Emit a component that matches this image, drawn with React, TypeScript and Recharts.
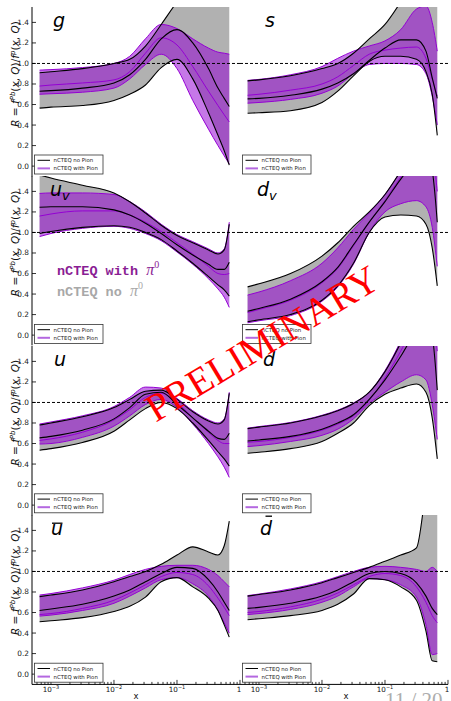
import React from 'react';
import { ComposedChart, Area, Line, XAxis, YAxis, ReferenceLine } from 'recharts';

// ---------------- data ----------------
// sampling points in x (log-spaced)
const X_GRID = [0.00066, 0.001, 0.00316, 0.01, 0.0178, 0.0316, 0.0562, 0.1, 0.178, 0.316, 0.447, 0.562, 0.676];

// g
const G_NO_HI = [0.91, 0.92, 0.95, 1.0, 1.04, 1.17, 1.38, 1.6, 1.8, 1.95, 2.0, 2.0, 2.0];
const G_NO_C = [0.73, 0.735, 0.76, 0.81, 0.89, 1.04, 1.24, 1.33, 1.2, 0.95, 0.76, 0.66, 0.58];
const G_NO_LO = [0.565, 0.575, 0.59, 0.64, 0.7, 0.79, 0.96, 1.04, 0.85, 0.52, 0.3, 0.15, 0.01];
const G_PI_HI = [0.935, 0.94, 0.96, 1.0, 1.07, 1.24, 1.38, 1.34, 1.24, 1.15, 1.11, 1.1, 1.09];
const G_PI_C = [0.78, 0.79, 0.81, 0.84, 0.92, 1.1, 1.25, 1.18, 0.97, 0.73, 0.59, 0.5, 0.43];
const G_PI_LO = [0.7, 0.705, 0.72, 0.76, 0.85, 0.99, 1.09, 0.95, 0.64, 0.36, 0.2, 0.1, 0.02];

// s
const S_NO_HI = [0.83, 0.84, 0.88, 0.95, 1.0, 1.1, 1.24, 1.38, 1.6, 1.85, 2.0, 2.0, 2.0];
const S_NO_C = [0.655, 0.66, 0.69, 0.75, 0.81, 0.9, 1.03, 1.15, 1.23, 1.23, 1.12, 0.86, 0.66];
const S_NO_LO = [0.515, 0.52, 0.54, 0.62, 0.73, 0.88, 1.02, 1.07, 1.07, 1.04, 0.92, 0.7, 0.3];
const S_PI_HI = [0.835, 0.845, 0.89, 0.97, 1.05, 1.12, 1.17, 1.22, 1.33, 1.53, 1.56, 1.4, 1.12];
const S_PI_C = [0.69, 0.7, 0.74, 0.8, 0.87, 0.98, 1.09, 1.13, 1.15, 1.16, 1.05, 0.85, 0.68];
const S_PI_LO = [0.613, 0.62, 0.65, 0.71, 0.78, 0.9, 0.99, 1.0, 1.0, 0.99, 0.9, 0.68, 0.4];

// u_v
const UV_NO_HI = [1.56, 1.53, 1.46, 1.385, 1.3, 1.19, 1.07, 0.97, 0.9, 0.83, 0.79, 0.83, 1.08];
const UV_NO_C = [1.245, 1.25, 1.25, 1.22, 1.17, 1.09, 0.99, 0.88, 0.78, 0.69, 0.64, 0.64, 0.71];
const UV_NO_LO = [0.99, 1.01, 1.05, 1.065, 1.05, 1.0, 0.93, 0.82, 0.7, 0.57, 0.49, 0.44, 0.38];
const UV_PI_HI = [1.38, 1.385, 1.385, 1.37, 1.3, 1.2, 1.08, 0.98, 0.91, 0.84, 0.8, 0.84, 1.1];
const UV_PI_C = [1.16, 1.18, 1.21, 1.21, 1.17, 1.1, 1.01, 0.9, 0.79, 0.67, 0.6, 0.59, 0.6];
const UV_PI_LO = [0.96, 0.99, 1.04, 1.06, 1.04, 0.99, 0.92, 0.81, 0.69, 0.55, 0.45, 0.37, 0.27];

// d_v
const DV_NO_HI = [0.47, 0.5, 0.6, 0.77, 0.9, 1.06, 1.2, 1.37, 1.6, 1.85, 1.95, 1.95, 1.8];
const DV_NO_C = [0.233, 0.26, 0.35, 0.52, 0.66, 0.88, 1.1, 1.3, 1.52, 1.7, 1.75, 1.6, 1.1];
const DV_NO_LO = [0.13, 0.15, 0.2, 0.34, 0.48, 0.7, 1.0, 1.15, 1.17, 1.16, 1.08, 0.85, 0.48];
const DV_PI_HI = [0.39, 0.42, 0.53, 0.7, 0.85, 1.03, 1.19, 1.37, 1.6, 1.88, 2.0, 2.0, 1.9];
const DV_PI_C = [0.22, 0.25, 0.34, 0.51, 0.65, 0.87, 1.1, 1.31, 1.54, 1.74, 1.8, 1.75, 1.4];
const DV_PI_LO = [0.12, 0.14, 0.19, 0.33, 0.47, 0.69, 1.0, 1.2, 1.28, 1.31, 1.25, 1.05, 0.67];

// u
const U_NO_HI = [0.78, 0.8, 0.86, 0.95, 1.03, 1.11, 1.12, 1.03, 0.91, 0.82, 0.79, 0.83, 1.09];
const U_NO_C = [0.655, 0.67, 0.73, 0.84, 0.95, 1.08, 1.1, 0.98, 0.85, 0.72, 0.65, 0.64, 0.7];
const U_NO_LO = [0.535, 0.55, 0.61, 0.72, 0.83, 0.94, 1.0, 0.94, 0.8, 0.63, 0.52, 0.45, 0.38];
const U_PI_HI = [0.79, 0.81, 0.87, 0.96, 1.05, 1.15, 1.14, 1.04, 0.92, 0.83, 0.8, 0.84, 1.1];
const U_PI_C = [0.63, 0.645, 0.71, 0.83, 0.93, 1.05, 1.09, 1.0, 0.85, 0.71, 0.63, 0.6, 0.6];
const U_PI_LO = [0.595, 0.6, 0.66, 0.77, 0.87, 0.98, 1.03, 0.95, 0.79, 0.6, 0.47, 0.37, 0.27];

// d
const D_NO_HI = [0.745, 0.76, 0.8, 0.87, 0.92, 0.99, 1.1, 1.3, 1.58, 1.9, 2.0, 2.0, 1.8];
const D_NO_C = [0.625, 0.635, 0.67, 0.74, 0.8, 0.88, 1.03, 1.22, 1.45, 1.7, 1.8, 1.65, 1.12];
const D_NO_LO = [0.505, 0.515, 0.55, 0.62, 0.7, 0.8, 0.97, 1.08, 1.14, 1.18, 1.1, 0.85, 0.45];
const D_PI_HI = [0.75, 0.765, 0.805, 0.875, 0.925, 0.995, 1.1, 1.31, 1.6, 1.95, 2.05, 2.0, 1.9];
const D_PI_C = [0.612, 0.62, 0.66, 0.73, 0.79, 0.87, 1.02, 1.24, 1.5, 1.8, 1.9, 1.85, 1.5];
const D_PI_LO = [0.57, 0.58, 0.62, 0.68, 0.74, 0.84, 0.99, 1.1, 1.2, 1.27, 1.22, 0.98, 0.64];

// u-bar
const UB_NO_HI = [0.755, 0.77, 0.82, 0.9, 0.95, 1.0, 1.07, 1.16, 1.24, 1.19, 1.16, 1.25, 1.49];
const UB_NO_C = [0.62, 0.635, 0.68, 0.76, 0.82, 0.9, 0.98, 1.04, 1.03, 0.92, 0.8, 0.7, 0.62];
const UB_NO_LO = [0.51, 0.52, 0.55, 0.61, 0.66, 0.75, 0.9, 0.94, 0.85, 0.74, 0.62, 0.48, 0.36];
const UB_PI_HI = [0.77, 0.785, 0.84, 0.915, 0.97, 1.02, 1.05, 1.06, 1.06, 1.02, 0.96, 0.9, 0.85];
const UB_PI_C = [0.58, 0.59, 0.64, 0.72, 0.79, 0.87, 0.95, 0.99, 0.97, 0.86, 0.74, 0.65, 0.57];
const UB_PI_LO = [0.565, 0.575, 0.62, 0.69, 0.76, 0.84, 0.92, 0.94, 0.88, 0.76, 0.62, 0.5, 0.4];

// d-bar
const DB_NO_HI = [0.76, 0.775, 0.82, 0.89, 0.94, 0.99, 1.04, 1.1, 1.16, 1.23, 1.8, 2.2, 2.4];
const DB_NO_C = [0.64, 0.65, 0.69, 0.76, 0.82, 0.9, 0.98, 1.0, 0.98, 0.89, 0.76, 0.64, 0.58];
const DB_NO_LO = [0.53, 0.54, 0.57, 0.62, 0.68, 0.78, 0.93, 0.92, 0.85, 0.72, 0.42, 0.13, 0.12];
const DB_PI_HI = [0.765, 0.78, 0.83, 0.9, 0.95, 1.0, 1.04, 1.05, 1.04, 1.02, 1.0, 1.04, 1.0];
const DB_PI_C = [0.6, 0.61, 0.655, 0.73, 0.79, 0.87, 0.95, 0.98, 0.96, 0.85, 0.7, 0.57, 0.5];
const DB_PI_LO = [0.58, 0.59, 0.63, 0.7, 0.76, 0.85, 0.93, 0.92, 0.87, 0.75, 0.48, 0.19, 0.2];

// axes
const X_DOMAIN: [number, number] = [0.0005, 1];
const Y_DOMAIN: [number, number] = [-0.1, 1.55];
const X_MAJOR = [0.001, 0.01, 0.1, 1];
const X_MAJOR_EXP = ['\u22123', '\u22122', '\u22121', ''];
const X_TICKS = [
  0.0006, 0.0007, 0.0008, 0.0009, 0.001,
  0.002, 0.003, 0.004, 0.005, 0.006, 0.007, 0.008, 0.009, 0.01,
  0.02, 0.03, 0.04, 0.05, 0.06, 0.07, 0.08, 0.09, 0.1,
  0.2, 0.3, 0.4, 0.5, 0.6, 0.7, 0.8, 0.9, 1,
];
const Y_TICKS = [0, 0.2, 0.4, 0.6, 0.8, 1.0, 1.2, 1.4];
const Y_TICK_LABELS = ['0.0', '0.2', '0.4', '0.6', '0.8', '1.0', '1.2', '1.4'];

const LEGEND_LABELS = ['nCTEQ no Pion', 'nCTEQ with Pion'];

type Spec = {
  id: string;
  noHi: number[]; noC: number[]; noLo: number[];
  piHi: number[]; piC: number[]; piLo: number[];
};

const GRID: Spec[][] = [
  [
    { id: 'g', noHi: G_NO_HI, noC: G_NO_C, noLo: G_NO_LO, piHi: G_PI_HI, piC: G_PI_C, piLo: G_PI_LO },
    { id: 's', noHi: S_NO_HI, noC: S_NO_C, noLo: S_NO_LO, piHi: S_PI_HI, piC: S_PI_C, piLo: S_PI_LO },
  ],
  [
    { id: 'uv', noHi: UV_NO_HI, noC: UV_NO_C, noLo: UV_NO_LO, piHi: UV_PI_HI, piC: UV_PI_C, piLo: UV_PI_LO },
    { id: 'dv', noHi: DV_NO_HI, noC: DV_NO_C, noLo: DV_NO_LO, piHi: DV_PI_HI, piC: DV_PI_C, piLo: DV_PI_LO },
  ],
  [
    { id: 'u', noHi: U_NO_HI, noC: U_NO_C, noLo: U_NO_LO, piHi: U_PI_HI, piC: U_PI_C, piLo: U_PI_LO },
    { id: 'd', noHi: D_NO_HI, noC: D_NO_C, noLo: D_NO_LO, piHi: D_PI_HI, piC: D_PI_C, piLo: D_PI_LO },
  ],
  [
    { id: 'ub', noHi: UB_NO_HI, noC: UB_NO_C, noLo: UB_NO_LO, piHi: UB_PI_HI, piC: UB_PI_C, piLo: UB_PI_LO },
    { id: 'db', noHi: DB_NO_HI, noC: DB_NO_C, noLo: DB_NO_LO, piHi: DB_PI_HI, piC: DB_PI_C, piLo: DB_PI_LO },
  ],
];

// ---------------- layout ----------------
const PLOT_W = 208;
const PLOT_H = 169.4;
const ROW_TOP = [7, 176.4, 345.8, 515.2];
const COL_LEFT = [32, 240];

const GRAY = '#b1b1b1';
const VIOLET = '#9400d3';
const FONT = "'DejaVu Sans', sans-serif";

function buildRows(s: Spec) {
  return X_GRID.map((x, i) => ({
    x,
    gray: [s.noLo[i], s.noHi[i]],
    pion: [s.piLo[i], s.piHi[i]],
    noHi: s.noHi[i], noC: s.noC[i], noLo: s.noLo[i],
    piHi: s.piHi[i], piC: s.piC[i], piLo: s.piLo[i],
  }));
}

function BottomTick(props: any) {
  const { x, y, payload, showLabel } = props;
  const v = payload.value;
  const mi = X_MAJOR.indexOf(v);
  const len = mi >= 0 ? 4.5 : 2.5;
  return (
    <g>
      <line x1={x} x2={x} y1={y} y2={y - len} stroke="#000" strokeWidth={0.8} />
      {showLabel && mi >= 0 && (
        mi < 3 ? (
          <text x={x} y={y + 8} textAnchor="middle" fontSize={7.2} fontFamily={FONT} fill="#111">
            10<tspan dy={-3.6} fontSize={5}>{X_MAJOR_EXP[mi]}</tspan>
          </text>
        ) : (
          <text x={x - 1} y={y + 8} textAnchor="middle" fontSize={7.2} fontFamily={FONT} fill="#111">1</text>
        )
      )}
    </g>
  );
}

function TopTick(props: any) {
  const { x, y, payload } = props;
  const len = X_MAJOR.indexOf(payload.value) >= 0 ? 4.5 : 2.5;
  return <line x1={x} x2={x} y1={y} y2={y + len} stroke="#000" strokeWidth={0.8} />;
}

function LeftTick(props: any) {
  const { x, y, payload, showLabel } = props;
  const i = Y_TICKS.indexOf(payload.value);
  return (
    <g>
      <line x1={x} x2={x + 4} y1={y} y2={y} stroke="#000" strokeWidth={0.8} />
      {showLabel && (
        <text x={x - 3} y={y + 2.5} textAnchor="end" fontSize={7.4} fontFamily={FONT} fill="#222">
          {Y_TICK_LABELS[i]}
        </text>
      )}
    </g>
  );
}

function RightTick(props: any) {
  const { x, y } = props;
  return <line x1={x} x2={x - 4} y1={y} y2={y} stroke="#000" strokeWidth={0.8} />;
}

function Panel({ spec, row, col }: { spec: Spec; row: number; col: number }) {
  const rows = buildRows(spec);
  const yW = col === 0 ? 32 : 0;
  const xH = row === 3 ? 17 : 0;
  const m = { top: 1, right: 8, bottom: 1, left: 1 };
  const w = m.left + yW + PLOT_W + m.right;
  const h = m.top + PLOT_H + xH + m.bottom;
  const axisLine = { stroke: '#000', strokeWidth: 1 };
  return (
    <div style={{ position: 'absolute', left: COL_LEFT[col] - yW - m.left, top: ROW_TOP[row] - m.top, width: w, height: h }}>
      <ComposedChart width={w} height={h} data={rows} margin={m}>
        <XAxis xAxisId="b" dataKey="x" type="number" scale="log" domain={X_DOMAIN} allowDataOverflow
          ticks={X_TICKS} interval={0} tickSize={0} tickMargin={0} height={xH} tickLine={false}
          axisLine={axisLine} tick={(p: any) => <BottomTick {...p} showLabel={row === 3} />} />
        <XAxis xAxisId="t" dataKey="x" orientation="top" type="number" scale="log" domain={X_DOMAIN} allowDataOverflow
          ticks={X_TICKS} interval={0} tickSize={0} tickMargin={0} height={0} tickLine={false}
          axisLine={axisLine} tick={(p: any) => <TopTick {...p} />} />
        <YAxis yAxisId="l" type="number" domain={Y_DOMAIN} allowDataOverflow ticks={Y_TICKS} interval={0}
          width={yW} tickSize={0} tickMargin={0} tickLine={false} axisLine={axisLine}
          tick={(p: any) => <LeftTick {...p} showLabel={col === 0} />} />
        <YAxis yAxisId="r" orientation="right" type="number" domain={Y_DOMAIN} allowDataOverflow ticks={Y_TICKS} interval={0}
          width={0} tickSize={0} tickMargin={0} tickLine={false} axisLine={axisLine}
          tick={(p: any) => <RightTick {...p} />} />
        <Area xAxisId="b" yAxisId="l" type="monotone" dataKey="gray" fill={GRAY} fillOpacity={1} stroke="none" isAnimationActive={false} />
        <Area xAxisId="b" yAxisId="l" type="monotone" dataKey="pion" fill={VIOLET} fillOpacity={0.53} stroke="none" isAnimationActive={false} />
        <Line xAxisId="b" yAxisId="l" type="monotone" dataKey="piHi" stroke={VIOLET} strokeWidth={1} dot={false} isAnimationActive={false} />
        <Line xAxisId="b" yAxisId="l" type="monotone" dataKey="piC" stroke={VIOLET} strokeWidth={1} dot={false} isAnimationActive={false} />
        <Line xAxisId="b" yAxisId="l" type="monotone" dataKey="piLo" stroke={VIOLET} strokeWidth={1} dot={false} isAnimationActive={false} />
        <Line xAxisId="b" yAxisId="l" type="monotone" dataKey="noHi" stroke="#000" strokeWidth={1.1} dot={false} isAnimationActive={false} />
        <Line xAxisId="b" yAxisId="l" type="monotone" dataKey="noC" stroke="#000" strokeWidth={1.1} dot={false} isAnimationActive={false} />
        <Line xAxisId="b" yAxisId="l" type="monotone" dataKey="noLo" stroke="#000" strokeWidth={1.1} dot={false} isAnimationActive={false} />
        <ReferenceLine xAxisId="b" yAxisId="l" y={1} stroke="#000" strokeWidth={1} strokeDasharray="3 2" />
      </ComposedChart>
    </div>
  );
}

function LegendBox({ x, y }: { x: number; y: number }) {
  return (
    <g>
      <rect x={x} y={y} width={68.5} height={19} fill="#fff" stroke="#333" strokeWidth={0.8} />
      <line x1={x + 3} x2={x + 15.5} y1={y + 5.3} y2={y + 5.3} stroke="#000" strokeWidth={1} />
      <line x1={x + 3} x2={x + 15.5} y1={y + 13.4} y2={y + 13.4} stroke="#b468e0" strokeWidth={2} />
      <text x={x + 19} y={y + 7.3} fontSize={5.4} fontFamily={FONT} fill="#222">{LEGEND_LABELS[0]}</text>
      <text x={x + 19} y={y + 15.4} fontSize={5.4} fontFamily={FONT} fill="#222">{LEGEND_LABELS[1]}</text>
    </g>
  );
}

function Title({ id, x, y }: { id: string; x: number; y: number }) {
  const common = { fontSize: 19, fontFamily: FONT, fontStyle: 'italic' as const, fill: '#000' };
  if (id === 'uv' || id === 'dv') {
    return (
      <text x={x} y={y} {...common}>
        {id === 'uv' ? 'u' : 'd'}<tspan fontSize={13} dy={4}>v</tspan>
      </text>
    );
  }
  if (id === 'ub' || id === 'db') {
    const isU = id === 'ub';
    return (
      <g>
        <text x={x} y={y} {...common}>{isU ? 'u' : 'd'}</text>
        <line x1={isU ? x + 1 : x + 5.5} x2={isU ? x + 11.5 : x + 12} y1={isU ? y - 12 : y - 19}
          y2={isU ? y - 12 : y - 19} stroke="#000" strokeWidth={1.3} />
      </g>
    );
  }
  return <text x={x} y={y} {...common}>{id}</text>;
}

const TITLE_X = [[53, 265], [50, 257], [54, 263], [51, 260]];

function YLabel({ cy }: { cy: number }) {
  return (
    <text transform={`translate(19, ${cy}) rotate(-90)`} textAnchor="middle" fontSize={10.5} fontFamily={FONT} fill="#111">
      <tspan fontStyle="italic">R</tspan>
      <tspan>{' = '}</tspan>
      <tspan fontStyle="italic">f</tspan>
      <tspan fontSize={7} dy={-4.5} fontStyle="italic">Pb</tspan>
      <tspan dy={4.5}>{'('}</tspan>
      <tspan fontStyle="italic">x</tspan>
      <tspan>{', '}</tspan>
      <tspan fontStyle="italic">Q</tspan>
      <tspan>{')/'}</tspan>
      <tspan fontStyle="italic">f</tspan>
      <tspan fontSize={7} dy={-4.5} fontStyle="italic">p</tspan>
      <tspan dy={4.5}>{'('}</tspan>
      <tspan fontStyle="italic">x</tspan>
      <tspan>{', '}</tspan>
      <tspan fontStyle="italic">Q</tspan>
      <tspan>{')'}</tspan>
    </text>
  );
}

function Overlay() {
  return (
    <svg width={451} height={701} style={{ position: 'absolute', left: 0, top: 0, pointerEvents: 'none' }}>
      {ROW_TOP.map((t, r) => <YLabel key={'yl' + r} cy={t + 67} />)}
      {GRID.map((rowSpecs, r) =>
        rowSpecs.map((s, c) => (
          <g key={s.id}>
            <Title id={s.id} x={TITLE_X[r][c]} y={ROW_TOP[r] + 20} />
            <LegendBox x={COL_LEFT[c] + 2.5} y={ROW_TOP[r] + PLOT_H - 21.4} />
          </g>
        ))
      )}
      <text x={136} y={699} textAnchor="middle" fontSize={8.5} fontFamily={FONT} fill="#111">x</text>
      <text x={346} y={699} textAnchor="middle" fontSize={8.5} fontFamily={FONT} fill="#111">x</text>

      <text x={57} y={275} fontSize={13.5} fontWeight="bold" fontFamily="'Liberation Mono', monospace" fill="#8a1d94">
        <tspan>{'nCTEQ with '}</tspan>
        <tspan fontFamily="'Liberation Serif', serif" fontStyle="italic" fontWeight="normal" fontSize={16}>π</tspan>
        <tspan fontFamily="'Liberation Serif', serif" fontWeight="normal" fontSize={10} dy={-7}>0</tspan>
      </text>
      <text x={57} y={296} fontSize={13.5} fontWeight="bold" fontFamily="'Liberation Mono', monospace" fill="#a8a8a8">
        <tspan>{'nCTEQ no '}</tspan>
        <tspan fontFamily="'Liberation Serif', serif" fontStyle="italic" fontWeight="normal" fontSize={16}>π</tspan>
        <tspan fontFamily="'Liberation Serif', serif" fontWeight="normal" fontSize={10} dy={-7}>0</tspan>
      </text>

      <text transform="translate(262, 343) rotate(-31)" textAnchor="middle" dominantBaseline="central"
        fontSize={39} fontFamily="'Liberation Serif', serif" fill="#ff0000">PRELIMINARY</text>

      <text x={385} y={707} fontSize={21} fontFamily="'Liberation Serif', serif" fill="#adadad">11 / 20</text>
    </svg>
  );
}

export default function App() {
  return (
    <div style={{ position: 'absolute', left: 0, top: 0, width: 451, height: 701, background: '#fff', overflow: 'hidden' }}>
      {GRID.map((rowSpecs, r) => rowSpecs.map((s, c) => <Panel key={s.id} spec={s} row={r} col={c} />))}
      <Overlay />
    </div>
  );
}
